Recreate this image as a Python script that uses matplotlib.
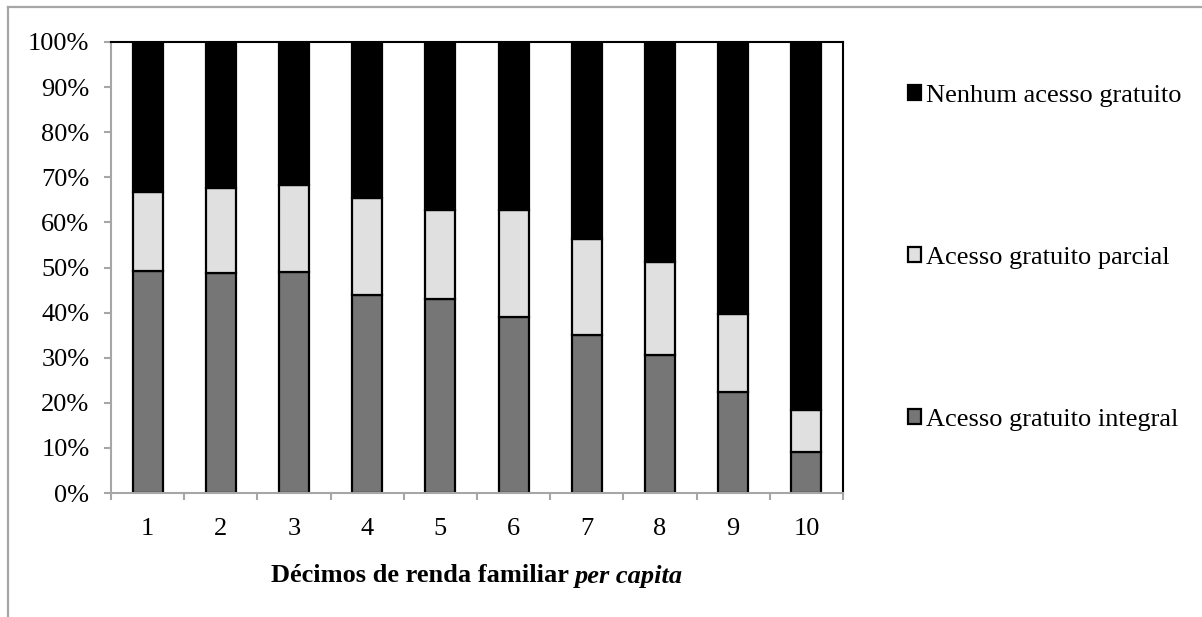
import numpy as np
import matplotlib
matplotlib.use("Agg")
import matplotlib.pyplot as plt
from matplotlib.lines import Line2D

plt.rcParams['font.family'] = ['Liberation Serif', 'DejaVu Serif']

# dados (em %)
decimos = ['1', '2', '3', '4', '5', '6', '7', '8', '9', '10']
integral = [49.3, 48.7, 49.0, 44.0, 43.0, 39.0, 35.0, 30.7, 22.4, 9.2]
parcial = [17.5, 19.0, 19.2, 21.5, 19.8, 23.7, 21.4, 20.6, 17.4, 9.1]
nenhum = [100 - a - b for a, b in zip(integral, parcial)]

fs = 19
cinza = '#a6a6a6'

fig = plt.figure(figsize=(12.02, 6.17), dpi=100)
ax = fig.add_axes([111/1202, 1 - 493/617, (843-111)/1202, (493-42)/617])

x = np.arange(1, len(decimos) + 1)
w = 0.41
b1 = ax.bar(x, integral, w, color='#767676', edgecolor='black', linewidth=1.6,
            label='Acesso gratuito integral')
b2 = ax.bar(x, parcial, w, bottom=integral, color='#e0e0e0', edgecolor='black',
            linewidth=1.6, label='Acesso gratuito parcial')
base3 = [a + b for a, b in zip(integral, parcial)]
b3 = ax.bar(x, nenhum, w, bottom=base3, color='black', edgecolor='black',
            linewidth=1.6, label='Nenhum acesso gratuito')

ax.set_xlim(0.5, len(decimos) + 0.5)
ax.set_ylim(0, 100)
ax.set_yticks(range(0, 101, 10))
ax.set_yticklabels(['%d%%' % v for v in range(0, 101, 10)])
ax.set_xticks(x)
ax.set_xticklabels(decimos)
ax.set_xticks(np.arange(0.5, len(decimos) + 1, 1), minor=True)

ax.tick_params(axis='y', direction='out', length=5, width=1.5, color=cinza,
               pad=10.5, labelsize=fs)
ax.tick_params(axis='x', which='major', length=0, pad=18, labelsize=fs)
ax.tick_params(axis='x', which='minor', direction='out', length=5, width=1.5,
               color=cinza)

for s in ['left', 'bottom']:
    ax.spines[s].set_color(cinza)
    ax.spines[s].set_linewidth(1.5)
for s in ['top', 'right']:
    ax.spines[s].set_color('black')
    ax.spines[s].set_linewidth(1.5)

# legenda na ordem inversa
leg = ax.legend(handles=[b3, b2, b1], loc='upper left',
                bbox_to_anchor=(908/1202, 1 - 85/617),
                bbox_transform=fig.transFigure, frameon=False, fontsize=fs,
                handlelength=0.5, handleheight=0.5, handletextpad=0.2,
                labelspacing=5.3, borderpad=0, borderaxespad=0)

# titulo do eixo x: parte em negrito e parte em negrito italico
t1 = fig.text(0, 41/617, 'Décimos de renda familiar ', fontsize=fs,
              weight='bold', ha='left', va='center')
t2 = fig.text(0, 41/617, 'per capita', fontsize=fs, weight='bold',
              style='italic', ha='left', va='center')
fig.canvas.draw()
r = fig.canvas.get_renderer()
w1 = t1.get_window_extent(r).width
w2 = t2.get_window_extent(r).width
cx = 477
x0 = cx - (w1 + w2) / 2
t1.set_x(x0 / 1202)
t2.set_x((x0 + w1) / 1202)

# moldura cinza da figura
fig.add_artist(Line2D([8/1202, 8/1202], [0, 1 - 7/617], transform=fig.transFigure,
                      color=cinza, lw=1.6))
fig.add_artist(Line2D([8/1202, 1], [1 - 7/617, 1 - 7/617], transform=fig.transFigure,
                      color=cinza, lw=1.6))

fig.savefig('out.png', dpi=100)
